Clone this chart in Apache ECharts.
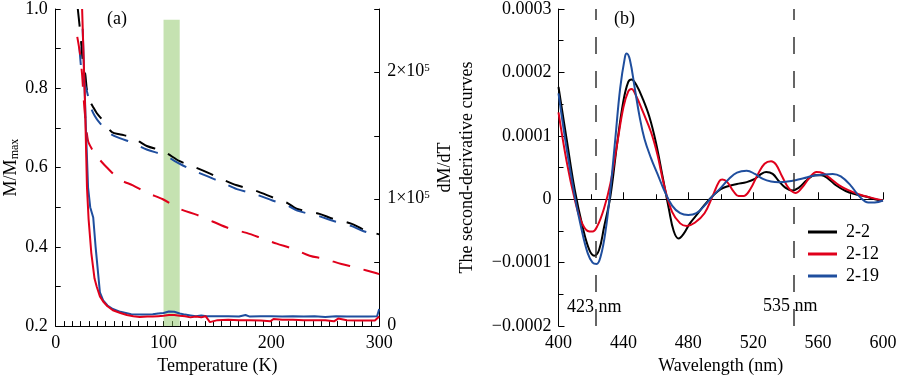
<!DOCTYPE html>
<html><head><meta charset="utf-8">
<script src="https://cdn.jsdelivr.net/npm/echarts@6/dist/echarts.min.js"></script>
<style>html,body{margin:0;padding:0;background:#fff}#c{width:900px;height:380px}</style>
</head><body><div id="c"></div>
<script>
// ---------- Panel (a): M/Mmax (left axis, solid) ----------
var T_red_solid = [24.5,27,29,30.5,33,36,38,41,44,48,53,60,66,72,78,85,90,95,100,105,110,115,120,125,130,135,139,143,150,160,170,180,190,199,202,210,220,230,240,250,258,262,270,280,290,296,300];
var M_red_solid = [1.0,0.78,0.55,0.47,0.385,0.32,0.30,0.275,0.262,0.25,0.24,0.233,0.228,0.225,0.223,0.224,0.224,0.225,0.226,0.228,0.228,0.226,0.225,0.222,0.224,0.222,0.225,0.21,0.215,0.216,0.215,0.215,0.214,0.212,0.218,0.216,0.216,0.215,0.215,0.215,0.212,0.219,0.215,0.214,0.214,0.214,0.224];
var T_blue_solid = [25,28,30,32,34.8,37,41,44,48,53,60,70,80,90,95,100,105,110,115,120,125,130,135,140,150,160,170,176,180,190,200,210,220,230,240,250,260,270,280,290,298,300];
var M_blue_solid = [0.95,0.70,0.55,0.50,0.474,0.40,0.285,0.265,0.252,0.243,0.236,0.230,0.229,0.230,0.232,0.233,0.237,0.236,0.232,0.229,0.227,0.225,0.227,0.225,0.225,0.225,0.224,0.228,0.224,0.225,0.225,0.224,0.225,0.224,0.225,0.223,0.225,0.224,0.224,0.224,0.225,0.243];
// ---------- Panel (a): right axis (dashed) ----------
var T_black_dash = [20.5,22,24,25,27.5,29,32,34.5,38,43.8,52,60,70.6,84.5,99.4,115,127,141,155,168,184.5,201,215,223.4,244.7,257,274,284.5,300];
var V_black_dash = [250000,238000,220000,210000,198000,186000,177000,173000,168000,162000,153000,151000,149000,142000,138000,130000,126000,121000,115500,111000,107000,101600,97000,92500,88500,84600,80800,76500,72300];
var T_blue_dash = [22,24,26,29,32,36,41,50,60,70,85,100,115,127,141,155,168,185,201,215,224,245,257,274,285,300];
var V_blue_dash = [220000,200000,193000,185000,174000,166000,160000,152000,148000,145000,139000,135000,128000,123000,118000,113000,108000,104000,99000,95000,91000,86500,83000,79000,75000,71000];
var T_red_dash = [20,22.5,24.5,25.5,27,30,34,38,47.5,59.5,71.6,85,99.4,115,131,146,161,177,192,205,220,235.5,249,265,279,296,300];
var V_red_dash = [228000,215000,198000,185000,168000,146000,139000,134000,125000,115500,111000,105000,100000,92400,87700,82300,77000,73500,69000,65000,61000,55500,53000,49000,46000,42000,41000];
var band_T = [100, 115];
var band_M = [0.2, 0.973];
// ---------- Panel (b): second derivative (units of 1e-4) ----------
var wl_22 = [400,405,410,415,419,422,425,428,432,436,440,443,445,448,452,456,460,464,468,471,474,477,481,486,490,495,500,505,510,516,521,525,528,532,536,540,544,548,553,558,562,566,571,577,583,590,595,600];
var d_22 = [1.77,0.95,0.15,-0.45,-0.80,-0.89,-0.80,-0.45,0.05,0.85,1.55,1.85,1.89,1.80,1.58,1.30,0.90,0.38,-0.15,-0.50,-0.62,-0.55,-0.38,-0.22,-0.09,0.05,0.16,0.21,0.24,0.27,0.32,0.40,0.43,0.40,0.28,0.18,0.14,0.18,0.30,0.38,0.38,0.33,0.22,0.13,0.08,0.04,0.00,-0.02];
var wl_212 = [400,405,410,414,418,421,424,428,432,436,440,443,445,448,452,457,461,465,470,475,479,484,490,495,499,501,504,508,511,514,518,523,527,531,534,538,542,546,550,555,559,563,568,573,579,585,592,600];
var d_212 = [1.37,0.60,0.00,-0.35,-0.50,-0.51,-0.42,-0.15,0.25,0.85,1.45,1.70,1.74,1.62,1.38,1.06,0.70,0.23,-0.20,-0.38,-0.42,-0.37,-0.22,0.05,0.28,0.31,0.27,0.12,0.05,0.05,0.15,0.40,0.56,0.60,0.55,0.35,0.17,0.10,0.18,0.35,0.43,0.41,0.32,0.22,0.14,0.08,0.03,-0.02];
var wl_219 = [400,405,410,414,418,421,423.5,426,429,432,435,438,441,442,444,447,450,453,457,461,465,470,475,480,485,490,495,500,505,510,516,521,526,531,536,541,546,551,557,563,569,574,580,586,591,595,600];
var d_219 = [1.67,0.80,0.05,-0.45,-0.85,-1.00,-1.02,-0.90,-0.50,0.15,0.95,1.75,2.25,2.30,2.20,1.75,1.30,0.95,0.65,0.40,0.15,-0.10,-0.22,-0.25,-0.22,-0.10,0.05,0.18,0.32,0.42,0.45,0.40,0.32,0.28,0.27,0.28,0.30,0.33,0.37,0.39,0.40,0.36,0.22,0.03,-0.05,-0.05,-0.02];
var markers_wl = [423, 545];
var marker_labels = ['423 nm', '535 nm'];
var legend_names = ['2-2', '2-12', '2-19'];

function zip(a, b) { return a.map(function (x, i) { return [x, b[i]]; }); }

var FONT = '"Liberation Serif", "DejaVu Serif", serif';
var BLACK = '#000000', RED = '#e0001b', BLUE = '#1f4e9e';
var lbl = { color: '#000', fontFamily: FONT, fontSize: 18 };
var GFONT = '18px "Liberation Serif", "DejaVu Serif", serif';

var chart = echarts.init(document.getElementById('c'), null, { renderer: 'canvas' });
var option = {
  animation: false,
  backgroundColor: '#fff',
  textStyle: { fontFamily: FONT },
  grid: [
    { left: 55.7, top: 7, width: 323.5, height: 324, containLabel: false },
    { left: 558.5, top: 7, width: 324.5, height: 324, containLabel: false }
  ],
  legend: {
    data: legend_names, orient: 'vertical', left: 803, top: 218, itemGap: 4,
    itemWidth: 29, itemHeight: 3, icon: 'rect',
    textStyle: { color: '#000', fontFamily: FONT, fontSize: 18, padding: [0, 0, 0, 4] }
  },
  xAxis: [
    { gridIndex: 0, type: 'value', min: 0, max: 300, interval: 100,
      name: 'Temperature (K)', nameLocation: 'middle', nameGap: 28,
      nameTextStyle: lbl,
      axisLine: { lineStyle: { color: '#000', width: 1 } },
      axisTick: { inside: true, length: 5, lineStyle: { color: '#000' } },
      minorTick: { show: true, splitNumber: 13, length: 5, lineStyle: { color: '#000' } },
      axisLabel: Object.assign({ margin: 8 }, lbl),
      splitLine: { show: false } },
    { gridIndex: 1, type: 'value', min: 400, max: 600, interval: 40,
      name: 'Wavelength (nm)', nameLocation: 'middle', nameGap: 28,
      nameTextStyle: lbl,
      axisLine: { lineStyle: { color: '#000', width: 1 } },
      axisTick: { inside: true, length: 7, lineStyle: { color: '#000' } },
      minorTick: { show: true, splitNumber: 2, length: 5, lineStyle: { color: '#000' } },
      axisLabel: Object.assign({ margin: 8 }, lbl),
      splitLine: { show: false } }
  ],
  yAxis: [
    { gridIndex: 0, type: 'value', min: 0.2, max: 1.0, interval: 0.1, position: 'left',
      name: '{m|M/M}{s|max}', nameLocation: 'middle', nameRotate: 90, nameGap: 35,
      nameTextStyle: { rich: {
        m: { fontFamily: FONT, fontSize: 18, color: '#000', lineHeight: 22, verticalAlign: 'bottom' },
        s: { fontFamily: FONT, fontSize: 12, color: '#000', lineHeight: 22, verticalAlign: 'bottom', padding: [6, 0, 0, 0] } } },
      axisLine: { show: true, lineStyle: { color: '#000', width: 1 } },
      axisTick: { show: true, inside: true, length: 5, lineStyle: { color: '#000' } },
      axisLabel: Object.assign({ margin: 8, formatter: function (v) {
        return (Math.round(v * 10) % 2 === 0) ? v.toFixed(1) : ''; } }, lbl),
      splitLine: { show: false } },
    { gridIndex: 0, type: 'value', min: 0, max: 250000, interval: 50000, position: 'right',
      axisLine: { show: true, lineStyle: { color: '#000', width: 1 } },
      axisTick: { show: true, inside: true, length: 5, lineStyle: { color: '#000' } },
      axisLabel: { margin: 8, formatter: function (v) {
          if (v === 0) return '{n|0}';
          if (v % 100000 !== 0) return '';
          return '{n|' + (v / 100000) + '×10}{p|5}'; },
        rich: {
          n: { fontFamily: FONT, fontSize: 18, color: '#000', lineHeight: 20, verticalAlign: 'top' },
          p: { fontFamily: FONT, fontSize: 11, color: '#000', lineHeight: 20, verticalAlign: 'top', padding: [0, 0, 8, 0] } } },
      splitLine: { show: false } },
    { gridIndex: 1, type: 'value', min: -2, max: 3, interval: 1, position: 'left',
      name: 'dM/dT\nThe second-derivative curves', nameLocation: 'middle', nameRotate: 90, nameGap: 80,
      nameTextStyle: { color: '#000', fontFamily: FONT, fontSize: 18, lineHeight: 22 },
      axisLine: { show: true, lineStyle: { color: '#000', width: 1 } },
      axisTick: { show: true, inside: true, length: 6, lineStyle: { color: '#000' } },
      minorTick: { show: true, splitNumber: 2, length: 5, lineStyle: { color: '#000' } },
      axisLabel: Object.assign({ margin: 7, formatter: function (v) {
        if (v === 0) return '0';
        return (v < 0 ? '\u2212' : '') + '0.000' + Math.abs(v); } }, lbl),
      splitLine: { show: false } }
  ],
  series: [
    { name: 'blackDash', type: 'line', xAxisIndex: 0, yAxisIndex: 1, showSymbol: false, symbol: 'none', smooth: 0.3,
      lineStyle: { color: BLACK, width: 2, type: [18, 14] }, data: zip(T_black_dash, V_black_dash) },
    { name: 'blueDash', type: 'line', xAxisIndex: 0, yAxisIndex: 1, showSymbol: false, symbol: 'none', smooth: 0.3,
      lineStyle: { color: BLUE, width: 2, type: [18, 14] }, data: zip(T_blue_dash, V_blue_dash) },
    { name: 'redDash', type: 'line', xAxisIndex: 0, yAxisIndex: 1, showSymbol: false, symbol: 'none', smooth: 0.3,
      lineStyle: { color: RED, width: 2, type: [18, 14] }, data: zip(T_red_dash, V_red_dash) },
    { name: 'blueSolid', type: 'line', xAxisIndex: 0, yAxisIndex: 0, showSymbol: false, symbol: 'none',
      lineStyle: { color: BLUE, width: 2 }, data: zip(T_blue_solid, M_blue_solid) },
    { name: 'redSolid', type: 'line', xAxisIndex: 0, yAxisIndex: 0, showSymbol: false, symbol: 'none',
      lineStyle: { color: RED, width: 2 }, data: zip(T_red_solid, M_red_solid) },
    { name: 'band', type: 'line', xAxisIndex: 0, yAxisIndex: 0, z: 10, symbol: 'none', data: [],
      markArea: { silent: true, itemStyle: { color: 'rgba(140,198,100,0.5)' },
        data: [[{ xAxis: band_T[0], yAxis: band_M[0] }, { xAxis: band_T[1], yAxis: band_M[1] }]] } },
    { name: 'markers', type: 'line', xAxisIndex: 1, yAxisIndex: 2, symbol: 'none', data: [],
      markLine: { silent: true, symbol: 'none', label: { show: false },
        lineStyle: { color: '#333', width: 1.5, type: [17, 17] },
        data: markers_wl.map(function (w) { return { xAxis: w }; }) } },
    { name: legend_names[0], type: 'line', xAxisIndex: 1, yAxisIndex: 2, showSymbol: false, symbol: 'none', smooth: 0.4,
      itemStyle: { color: BLACK }, lineStyle: { color: BLACK, width: 2 }, data: zip(wl_22, d_22) },
    { name: legend_names[1], type: 'line', xAxisIndex: 1, yAxisIndex: 2, showSymbol: false, symbol: 'none', smooth: 0.4,
      itemStyle: { color: RED }, lineStyle: { color: RED, width: 2 }, data: zip(wl_212, d_212) },
    { name: legend_names[2], type: 'line', xAxisIndex: 1, yAxisIndex: 2, showSymbol: false, symbol: 'none', smooth: 0.4,
      itemStyle: { color: BLUE }, lineStyle: { color: BLUE, width: 2 }, data: zip(wl_219, d_219) }
  ],
  graphic: [
    { type: 'text', left: 107, top: 10, style: { text: '(a)', fill: '#000', font: GFONT } },
    { type: 'text', left: 614, top: 10, style: { text: '(b)', fill: '#000', font: GFONT } },
    { type: 'text', left: 567, top: 298, style: { text: marker_labels[0], fill: '#000', font: GFONT } },
    { type: 'text', left: 763, top: 297, style: { text: marker_labels[1], fill: '#000', font: GFONT } }
  ]
};
chart.setOption(option);
</script></body></html>
